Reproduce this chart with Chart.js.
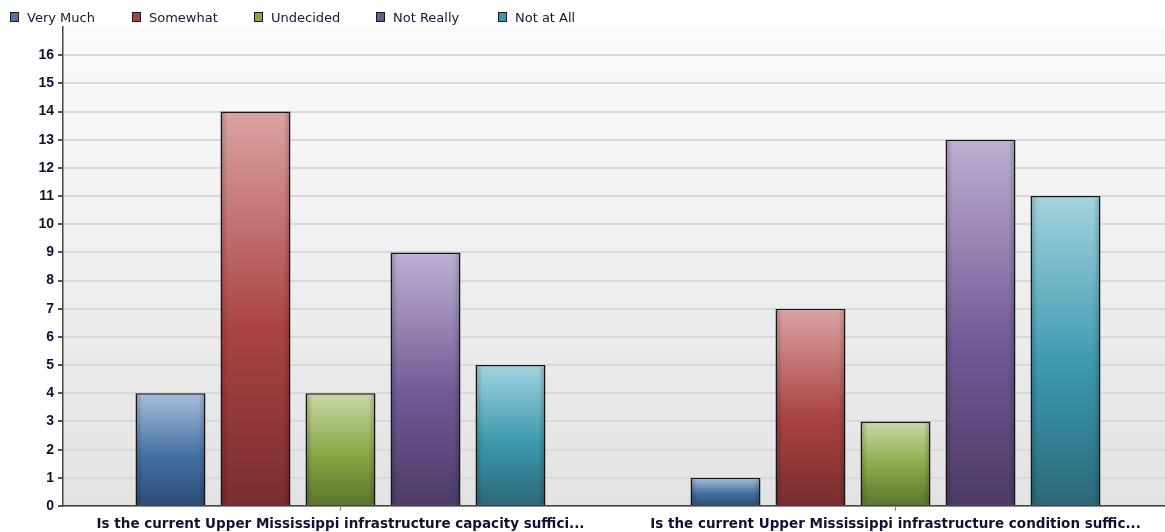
<!DOCTYPE html>
<html>
<head>
<meta charset="utf-8">
<script src="https://cdn.jsdelivr.net/npm/chart.js@4/dist/chart.umd.min.js"></script>
<style>
  html, body { margin: 0; padding: 0; background: #fff; overflow: hidden; }
  #wrap { position: relative; width: 1165px; height: 532px; overflow: hidden; }
  #legend { position: absolute; left: 10px; top: 0; height: 28px; display: flex; }
  .item { width: 122px; display: flex; align-items: center; height: 34px; font: 13px "DejaVu Sans", sans-serif; color: #161633; white-space: nowrap; }
  .box { width: 7px; height: 8px; border: 1px solid #1a1a1a; margin-right: 8px; }
</style>
</head>
<body>
<div id="wrap">
  <canvas id="chart" width="1175" height="532"></canvas>
  <div id="legend"></div>
</div>
<script>
const categories = [
  "Is the current Upper Mississippi infrastructure capacity suffici...",
  "Is the current Upper Mississippi infrastructure condition suffic..."
];
const seriesNames = ["Very Much", "Somewhat", "Undecided", "Not Really", "Not at All"];
const veryMuch = [4, 1];
const somewhat = [14, 7];
const undecided = [4, 3];
const notReally = [9, 13];
const notAtAll = [5, 11];
const yTicks = [0, 1, 2, 3, 4, 5, 6, 7, 8, 9, 10, 11, 12, 13, 14, 15, 16];

// light top, middle, dark bottom for each series
const shades = [
  ["#a9bedb", "#4470a3", "#2d4c74"],
  ["#dba3a3", "#a94343", "#782d2d"],
  ["#c9d9a6", "#89a646", "#5a752e"],
  ["#bdb0d1", "#735a96", "#4b3b66"],
  ["#a3d3de", "#3b98ad", "#2b6878"]
];
const legendColors = ["#4a74a8", "#a94444", "#86a44a", "#6f5a98", "#3b98b0"];

const allValues = [veryMuch, somewhat, undecided, notReally, notAtAll];

function barFill(i) {
  return (c) => {
    const chart = c.chart;
    if (!chart.chartArea || c.raw === undefined) return shades[i][1];
    const y = chart.scales.y;
    const top = y.getPixelForValue(c.raw);
    const base = y.getPixelForValue(0);
    const g = chart.ctx.createLinearGradient(0, top, 0, base);
    g.addColorStop(0, shades[i][0]);
    g.addColorStop(0.55, shades[i][1]);
    g.addColorStop(1, shades[i][2]);
    return g;
  };
}

const datasets = seriesNames.map((name, i) => ({
  label: name,
  data: allValues[i],
  backgroundColor: barFill(i),
  borderColor: "#161616",
  borderWidth: 1.5,
  categoryPercentage: 425 / 555,
  barPercentage: 70 / 85
}));

const legend = document.getElementById("legend");
seriesNames.forEach((name, i) => {
  const item = document.createElement("div");
  item.className = "item";
  const box = document.createElement("span");
  box.className = "box";
  box.style.background = legendColors[i];
  item.appendChild(box);
  item.appendChild(document.createTextNode(name));
  legend.appendChild(item);
});

const plotBg = {
  id: "plotBg",
  beforeDraw(chart) {
    const { ctx, chartArea: a } = chart;
    const g = ctx.createLinearGradient(0, a.top, 0, a.bottom);
    g.addColorStop(0, "#fbfbfb");
    g.addColorStop(1, "#e3e3e3");
    ctx.save();
    ctx.fillStyle = g;
    ctx.fillRect(a.left, a.top, a.right - a.left, a.bottom - a.top);
    ctx.restore();
  }
};

// darker side edges on each bar
const barEdges = {
  id: "barEdges",
  afterDatasetsDraw(chart) {
    const ctx = chart.ctx;
    chart.data.datasets.forEach((ds, i) => {
      chart.getDatasetMeta(i).data.forEach((bar) => {
        const left = bar.x - bar.width / 2 + 1.5;
        const w = bar.width - 3;
        const top = bar.y + 1.5;
        const h = bar.base - bar.y - 3;
        if (h <= 0) return;
        const g = ctx.createLinearGradient(left, 0, left + w, 0);
        g.addColorStop(0, "rgba(0,0,0,0.18)");
        g.addColorStop(0.08, "rgba(0,0,0,0)");
        g.addColorStop(0.92, "rgba(0,0,0,0)");
        g.addColorStop(1, "rgba(0,0,0,0.18)");
        ctx.save();
        ctx.fillStyle = g;
        ctx.fillRect(left, top, w, h);
        ctx.restore();
      });
    });
  }
};

new Chart(document.getElementById("chart"), {
  type: "bar",
  data: { labels: categories, datasets: datasets },
  plugins: [plotBg, barEdges],
  options: {
    responsive: false,
    animation: false,
    devicePixelRatio: 1,
    layout: { padding: { top: 27, right: 2, left: 0, bottom: 0 } },
    plugins: { legend: { display: false }, tooltip: { enabled: false } },
    scales: {
      x: {
        afterFit: (s) => { s.height = 26; },
        grid: { display: true, drawOnChartArea: false, offset: false, tickLength: 5, tickColor: "#888" },
        border: { display: true, color: "#444", width: 1.5 },
        ticks: {
          padding: 5,
          maxRotation: 0,
          autoSkip: false,
          color: "#111133",
          font: { family: "'DejaVu Sans', Verdana, sans-serif", size: 13.5, weight: "bold" }
        }
      },
      y: {
        min: 0,
        max: 17,
        afterFit: (s) => { s.width = 63; },
        afterBuildTicks: (s) => { s.ticks = yTicks.map((v) => ({ value: v })).concat([{ value: 17 }]); },
        grid: {
          color: (c) => (c.tick && c.tick.value === 17 ? "rgba(0,0,0,0)" : "#d9d9d9"),
          tickColor: (c) => (c.tick && c.tick.value === 17 ? "rgba(0,0,0,0)" : "#555"),
          lineWidth: 2,
          tickLength: 5
        },
        border: { display: true, color: "#444", width: 1.5 },
        ticks: {
          padding: 4,
          color: "#111133",
          callback: (v) => (v === 17 ? "" : v),
          font: { family: "'Liberation Sans', Arial, sans-serif", size: 14, weight: "bold" }
        }
      }
    }
  }
});
</script>
</body>
</html>
